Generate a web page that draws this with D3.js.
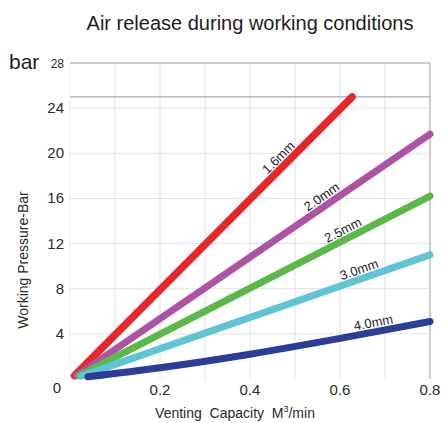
<!DOCTYPE html>
<html><head><meta charset="utf-8">
<script src="https://cdn.jsdelivr.net/npm/d3@7"></script>
<style>
body{margin:0;background:#fff;}
svg text{font-family:"Liberation Sans",Arial,sans-serif;}
</style></head>
<body>
<svg id="c" width="443" height="423"></svg>
<script>
// ---- data ----
const title = "Air release during working conditions";
const yTicks = [4, 8, 12, 16, 20, 24, 28];
const xTicks = [0.2, 0.4, 0.6, 0.8];
const xGrid = [0.1, 0.2, 0.3, 0.4, 0.5, 0.6, 0.7, 0.8];
const limitLine = 25;
const seriesNames = ["1.6mm", "2.0mm", "2.5mm", "3.0mm", "4.0mm"];
const seriesColors = ["#e5262b", "#ae52a6", "#5cb947", "#5fc4d4", "#2b3d96"];
const s16x = [0.01, 0.627];  const s16y = [0.3, 25];
const s20x = [0.015, 0.8];   const s20y = [0.3, 21.7];
const s25x = [0.02, 0.8];    const s25y = [0.3, 16.2];
const s30x = [0.025, 0.8];   const s30y = [0.25, 11.0];
const s40x = [0.04, 0.2, 0.4, 0.6, 0.8]; const s40y = [0.2, 1.0, 2.2, 3.6, 5.1];
const labelAt = [0.478, 0.571, 0.616, 0.649, 0.678];

const seriesX = [s16x, s20x, s25x, s30x, s40x];
const seriesY = [s16y, s20y, s25y, s30y, s40y];

// ---- chart ----
const svg = d3.select("#c");
const x = d3.scaleLinear().domain([0, 0.8]).range([70, 430]);
const y = d3.scaleLinear().domain([0, 28]).range([379, 63]);

svg.append("text").attr("x", 250).attr("y", 30).attr("text-anchor", "middle")
  .attr("font-size", 20).attr("fill", "#1e1e1e").text(title);

const g = svg.append("g");
g.selectAll(".hg").data(yTicks).enter().append("line")
  .attr("x1", x(0)).attr("x2", x(0.8)).attr("y1", d => y(d)).attr("y2", d => y(d))
  .attr("stroke", d => d === 28 ? "#b8bcbc" : "#dfe3e3").attr("stroke-width", d => d === 28 ? 1.5 : 1);
g.selectAll(".vg").data(xGrid).enter().append("line")
  .attr("x1", d => x(d)).attr("x2", d => x(d)).attr("y1", y(28)).attr("y2", y(0))
  .attr("stroke", d => d === 0.8 ? "#b8bcbc" : "#dfe3e3").attr("stroke-width", d => d === 0.8 ? 1.5 : 1);
g.append("line").attr("x1", x(0)).attr("x2", x(0)).attr("y1", y(28)).attr("y2", y(0))
  .attr("stroke", "#eceeee");
g.append("line").attr("x1", x(0)).attr("x2", x(0.8)).attr("y1", y(limitLine)).attr("y2", y(limitLine))
  .attr("stroke", "#a9adad").attr("stroke-width", 1.3);

svg.selectAll(".yl").data(yTicks).enter().append("text")
  .attr("x", 64).attr("y", d => y(d) + 5).attr("text-anchor", "end")
  .attr("font-size", d => d === 28 ? 12 : 15).attr("fill", "#2a2a2a")
  .style("font-family", "'Liberation Sans Narrow',Arial,sans-serif")
  .text(d => d);
svg.append("text").attr("x", 9).attr("y", 69).attr("font-size", 21).attr("fill", "#1e1e1e").text("bar");
svg.append("text").attr("x", 57).attr("y", 393).attr("text-anchor", "middle")
  .attr("font-size", 15).attr("fill", "#2a2a2a").text("0");
svg.selectAll(".xl").data(xTicks).enter().append("text")
  .attr("x", d => x(d)).attr("y", 395).attr("text-anchor", "middle")
  .attr("font-size", 15).attr("fill", "#2a2a2a").text(d => d);

const xt = svg.append("text").attr("x", 235).attr("y", 418).attr("text-anchor", "middle")
  .attr("font-size", 14).attr("fill", "#2a2a2a").style("white-space", "pre");
xt.append("tspan").text("Venting  Capacity  M");
xt.append("tspan").attr("font-size", 9).attr("dy", -6).text("3");
xt.append("tspan").attr("dy", 6).text("/min");
svg.append("text").attr("transform", "translate(28,260) rotate(-90)").attr("text-anchor", "middle")
  .attr("font-size", 14).attr("fill", "#2a2a2a").text("Working Pressure-Bar");

const line = d3.line().x(d => x(d[0])).y(d => y(d[1])).curve(d3.curveMonotoneX);
seriesNames.forEach((name, i) => {
  const pts = seriesX[i].map((v, j) => [v, seriesY[i][j]]);
  svg.append("path").attr("d", line(pts)).attr("fill", "none")
    .attr("stroke", seriesColors[i]).attr("stroke-width", i === 0 ? 7.5 : 7)
    .attr("stroke-linecap", "round");
});
seriesNames.forEach((name, i) => {
  const xs = seriesX[i], ys = seriesY[i];
  const interp = d3.scaleLinear().domain(xs).range(ys);
  const lx = labelAt[i];
  const px = x(lx), py = y(interp(lx));
  const p2x = x(lx + 0.01), p2y = y(interp(lx + 0.01));
  const ang = Math.atan2(p2y - py, p2x - px) * 180 / Math.PI;
  svg.append("text").attr("transform", `translate(${px},${py}) rotate(${ang})`)
    .attr("y", -5).attr("text-anchor", "middle").attr("font-size", 13).attr("fill", "#1e1e1e")
    .text(name);
});
</script>
</body></html>
